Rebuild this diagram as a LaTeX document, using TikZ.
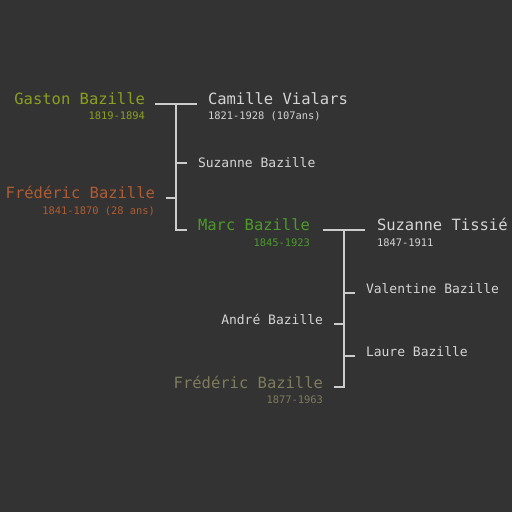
\documentclass[tikz,border=0pt]{standalone}
\usepackage{fontspec}
\setmonofont{DejaVu Sans Mono}
\begin{document}
\definecolor{bg}{HTML}{333333}
\definecolor{linecol}{HTML}{CCCCCC}
\definecolor{plain}{HTML}{D4D4D4}
\definecolor{gaston}{HTML}{8CA01E}
\definecolor{fred}{HTML}{B05C32}
\definecolor{marc}{HTML}{4C9A2A}
\definecolor{fredjr}{HTML}{7E7C5C}
\begin{tikzpicture}[x=1pt,y=-1pt,
  every node/.style={inner sep=0pt,outer sep=0pt,font=\ttfamily},
  bigname/.style={font=\ttfamily\fontsize{15.5}{18}\selectfont},
  smallname/.style={font=\ttfamily\fontsize{13}{15}\selectfont,text=plain},
  dates/.style={font=\ttfamily\fontsize{10.4}{12}\selectfont},
  link/.style={draw=linecol,line width=1.4pt}]
\fill[bg] (0,0) rectangle (512,512);
\useasboundingbox (0,0) rectangle (512,512);

% first couple
\node[bigname,text=gaston,anchor=base east] (gaston) at (145,104) {Gaston Bazille};
\node[dates,text=gaston,anchor=base east] (gastond) at (145,119) {1819-1894};
\node[bigname,text=plain,anchor=base west] (camille) at (208,104) {Camille Vialars};
\node[dates,text=plain,anchor=base west] (camilled) at (208,119) {1821-1928 (107ans)};

\coordinate (c1l) at (155,104);
\coordinate (c1r) at (197,104);
\coordinate (c1t) at (176,104);
\coordinate (c1b) at (176,230);
\draw[link] (c1l) -- (c1r);
\draw[link] (c1t) -- (c1b) -- (187,230);
\draw[link] (176,163) -- (187,163);
\draw[link] (166,198) -- (176,198);

% their children
\node[smallname,anchor=base west] (suzanne) at (198,167) {Suzanne Bazille};
\node[bigname,text=fred,anchor=base east] (fred) at (155,198) {Frédéric Bazille};
\node[dates,text=fred,anchor=base east] (fredd) at (155,214) {1841-1870 (28 ans)};
\node[bigname,text=marc,anchor=base east] (marc) at (310,230) {Marc Bazille};
\node[dates,text=marc,anchor=base east] (marcd) at (310,246) {1845-1923};

% second couple
\node[bigname,text=plain,anchor=base west] (tissie) at (377,230) {Suzanne Tissié};
\node[dates,text=plain,anchor=base west] (tissied) at (377,246) {1847-1911};

\coordinate (c2l) at (323,230);
\coordinate (c2r) at (365,230);
\coordinate (c2t) at (344,230);
\coordinate (c2b) at (344,387);
\draw[link] (c2l) -- (c2r);
\draw[link] (c2t) -- (c2b) -- (334,387);
\draw[link] (344,293) -- (355,293);
\draw[link] (334,324) -- (344,324);
\draw[link] (344,356) -- (355,356);

% their children
\node[smallname,anchor=base west] (valentine) at (366,293) {Valentine Bazille};
\node[smallname,anchor=base east] (andre) at (323,324) {André Bazille};
\node[smallname,anchor=base west] (laure) at (366,356) {Laure Bazille};
\node[bigname,text=fredjr,anchor=base east] (fredjr) at (323,388) {Frédéric Bazille};
\node[dates,text=fredjr,anchor=base east] (fredjrd) at (323,403) {1877-1963};
\end{tikzpicture}
\end{document}
